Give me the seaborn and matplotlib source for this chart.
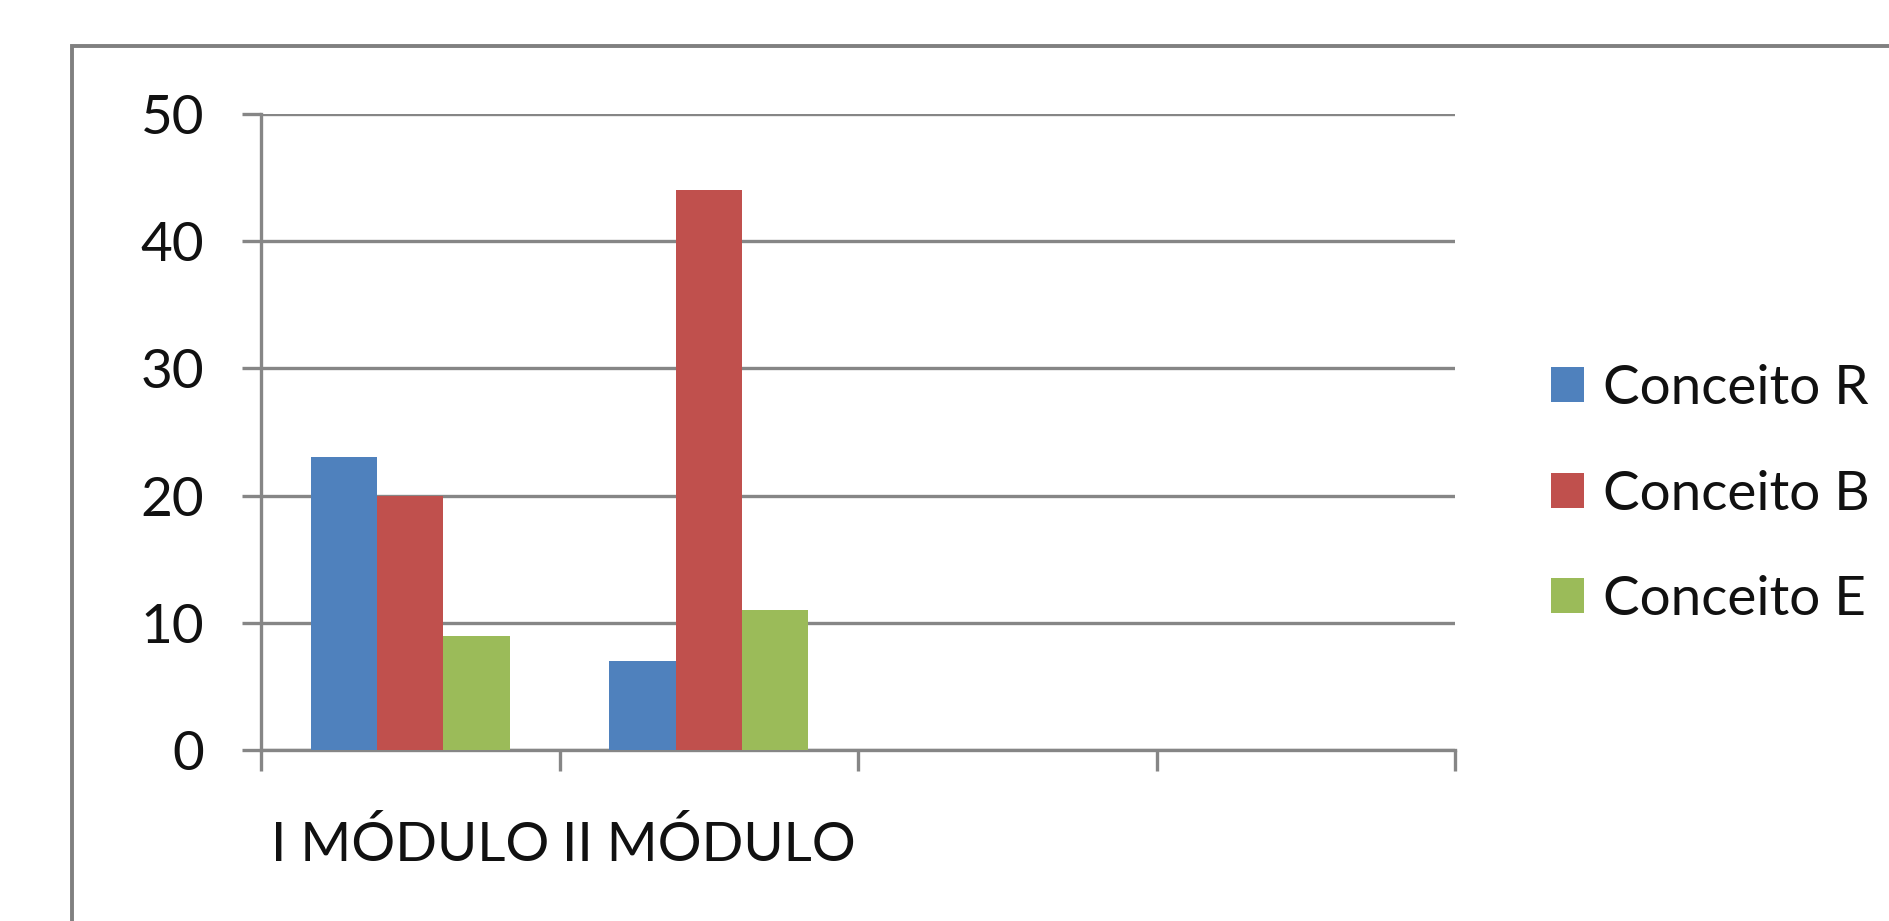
import matplotlib
matplotlib.use("Agg")
import matplotlib.pyplot as plt
import seaborn as sns
import pandas as pd
from matplotlib.patches import Rectangle, Patch

categories = ["I MÓDULO", "II MÓDULO"]
series = ["Conceito R", "Conceito B", "Conceito E"]
conceito_r = [23, 7]
conceito_b = [20, 44]
conceito_e = [9, 11]
yticks = [0, 10, 20, 30, 40, 50]
colors = ["#4F81BD", "#C0504D", "#9BBB59"]

df = pd.DataFrame({
    "modulo": categories * 3,
    "serie": [series[0]] * 2 + [series[1]] * 2 + [series[2]] * 2,
    "valor": conceito_r + conceito_b + conceito_e,
})

sns.set_theme(style="white")
plt.rcParams["font.family"] = ["Lato", "DejaVu Sans"]

W, H = 1890, 921
fig = plt.figure(figsize=(W / 100, H / 100), dpi=100)
ax = fig.add_axes([261 / W, 1 - 750 / H, (1455 - 261) / W, (750 - 114) / H])

sns.barplot(data=df, x="modulo", y="valor", hue="serie", order=categories,
            hue_order=series, palette=colors, width=0.667, saturation=1,
            errorbar=None, ax=ax, legend=False, zorder=3, linewidth=0)

grey = "#868686"
ax.set_xlim(-0.5, 3.5)
ax.set_ylim(0, 50)
ax.set_yticks(yticks)
ax.yaxis.grid(True, color=grey, linewidth=2.4, zorder=0)
ax.set_axisbelow(True)
for s in ["top", "right"]:
    ax.spines[s].set_visible(False)
for s in ["left", "bottom"]:
    ax.spines[s].set_color(grey)
    ax.spines[s].set_linewidth(2.4)
ax.set_xlabel("")
ax.set_ylabel("")
ax.tick_params(axis="y", length=14, width=2.4, color=grey, direction="out",
               labelsize=39.5, pad=27, left=True)
ax.set_xticks([0, 1])
ax.set_xticklabels(categories)
ax.set_xticks([-0.5, 0.5, 1.5, 2.5, 3.5], minor=True)
ax.tick_params(axis="x", which="major", length=0, labelsize=39.5, pad=50)
ax.tick_params(axis="x", which="minor", length=15, width=2.4, color=grey,
               direction="out", bottom=True)
for lab in ax.get_xticklabels() + ax.get_yticklabels():
    lab.set_color("#111111")

handles = [Patch(facecolor=c, edgecolor="none") for c in colors]
leg = fig.legend(handles, series, loc="center left",
                 bbox_to_anchor=(1551 / W, 1 - 494 / H), frameon=False,
                 fontsize=39.5, handlelength=0.6, handleheight=0.6,
                 handletextpad=0.35, labelspacing=1.03, borderpad=0,
                 borderaxespad=0)
for t in leg.get_texts():
    t.set_color("#111111")

frame = Rectangle((72 / W, -0.1), 1.2, 1 - 46 / H + 0.1, transform=fig.transFigure,
                  fill=False, edgecolor="#808080", linewidth=2.8, clip_on=False)
fig.patches.append(frame)

fig.savefig("out.png", dpi=100, facecolor="white")
